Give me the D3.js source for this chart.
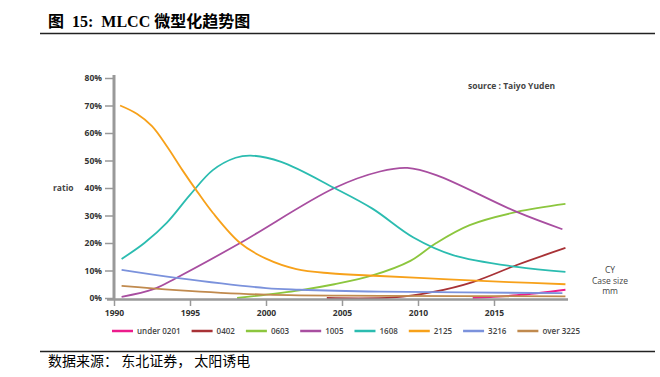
<!DOCTYPE html>
<html lang="zh">
<head>
<meta charset="utf-8">
<title>MLCC 微型化趋势图</title>
<script src="https://d3js.org/d3.v7.min.js"></script>
<style>
  body { margin: 0; background: #fff; }
  svg { display: block; }
  .title { font-family: "Liberation Serif", "Noto Sans CJK SC", serif; font-size: 16px; font-weight: bold; white-space: pre; }
  .foot { font-family: "Noto Sans CJK SC", sans-serif; font-size: 14px; white-space: pre; }
  .axis text { font-family: "Open Sans", sans-serif; font-size: 8.5px; font-weight: bold; fill: #333; }
  .note { font-family: "Open Sans", sans-serif; fill: #444; }
</style>
</head>
<body>
<svg width="660" height="377"></svg>
<script>
// values: [year, share %]
const under0201 = [[2013.6, 0], [2016.5, 1], [2019.7, 3]];
const s0402 = [[2004, 0], [2008.4, 0.2], [2011, 2.2], [2013.6, 5.8], [2016.5, 12], [2019.7, 18.2]];
const s0603 = [[1998.1, 0], [2002.2, 2.8], [2004.5, 5], [2007, 8.2], [2009.5, 13.5], [2011.2, 20], [2013.4, 26.5], [2016.5, 31.3], [2019.7, 34.2]];
const s1005 = [[1990.5, 0.4], [1992.6, 3.2], [1994.1, 7.3], [1998.3, 20], [2004.5, 40], [2007.5, 46], [2009.3, 47.3], [2011.2, 44.7], [2016.5, 31.3], [2019.5, 25]];
const s1608 = [[1990.5, 14.2], [1992, 20], [1993.5, 27.5], [1995, 37.5], [1996.5, 46.5], [1998, 51], [1999, 51.8], [2001, 49.5], [2004.5, 40], [2007, 32.5], [2009.7, 22], [2012.3, 15.6], [2016.5, 11.3], [2019.7, 9.5]];
const s2125 = [[1990.4, 70], [1991.5, 67], [1992.5, 62.5], [1993.5, 55], [1994.5, 46.5], [1995.5, 38.5], [1996.5, 31], [1998.3, 20], [2000, 14.3], [2002, 10.5], [2004.2, 9], [2007.5, 8], [2012, 6.8], [2016, 5.8], [2019.7, 5]];
const s3216 = [[1990.5, 10.2], [1994.1, 7.3], [2000, 3.6], [2002.2, 3], [2007.5, 2.3], [2019.5, 1.8]];
const over3225 = [[1990.5, 4.4], [1994.1, 2.9], [2000, 1.2], [2007.5, 0.8], [2019.7, 0.6]];

const seriesNames = ["under 0201", "0402", "0603", "1005", "1608", "2125", "3216", "over 3225"];
const seriesData = [under0201, s0402, s0603, s1005, s1608, s2125, s3216, over3225];
const colors = ["#ec1c8c", "#a83236", "#8cc63e", "#a84ea0", "#2bbcb0", "#f7a11a", "#7b92dc", "#c08a4e"];
const xTicks = [1990, 1995, 2000, 2005, 2010, 2015];
const yTicks = [0, 10, 20, 30, 40, 50, 60, 70, 80];

const svg = d3.select("svg");

// title and footer
svg.append("text").attr("class", "title").attr("x", 48).attr("y", 27)
   .text("图  15:  MLCC 微型化趋势图");
svg.append("line").attr("x1", 40).attr("x2", 655).attr("y1", 33.5).attr("y2", 33.5)
   .attr("stroke", "#222").attr("stroke-width", 1.3);
svg.append("line").attr("x1", 40).attr("x2", 655).attr("y1", 351.5).attr("y2", 351.5)
   .attr("stroke", "#222").attr("stroke-width", 1.3);
svg.append("text").attr("class", "foot").attr("x", 48).attr("y", 366)
   .text("数据来源： 东北证券， 太阳诱电");

const x = d3.scaleLinear().domain([1990, 2020]).range([114, 570]);
const y = d3.scaleLinear().domain([0, 80]).range([298, 78]);

// axes
const gy = svg.append("g").attr("class", "axis").attr("transform", "translate(114,0)")
  .call(d3.axisLeft(y).tickValues(yTicks).tickFormat(d => d + "%").tickSize(9).tickSizeOuter(0).tickPadding(3));
gy.select(".domain").remove();
gy.selectAll(".tick line").attr("stroke", "#999").attr("stroke-width", 1.5);

const gx = svg.append("g").attr("class", "axis").attr("transform", "translate(0,299)")
  .call(d3.axisBottom(x).tickValues(xTicks).tickFormat(d3.format("d")).tickSize(7).tickSizeOuter(0).tickPadding(4));
gx.select(".domain").remove();
gx.selectAll(".tick line").attr("stroke", "#999").attr("stroke-width", 1.5);

svg.append("line").attr("x1", 114).attr("x2", 114).attr("y1", 75).attr("y2", 300)
   .attr("stroke", "#999").attr("stroke-width", 3);

// lines
const line = d3.line().x(d => x(d[0])).y(d => y(Math.max(0, d[1]))).curve(d3.curveCatmullRom.alpha(0.5));
svg.append("g").selectAll("path")
  .data(seriesData)
  .join("path")
  .attr("d", line)
  .attr("fill", "none")
  .attr("stroke", (d, i) => colors[i])
  .attr("stroke-width", 1.8);

svg.append("line").attr("x1", 107).attr("x2", 568).attr("y1", 299.5).attr("y2", 299.5)
   .attr("stroke", "#999").attr("stroke-width", 2.5);

// annotations
svg.append("text").attr("class", "note").attr("x", 53).attr("y", 191)
   .attr("font-size", 8.5).attr("font-weight", "bold").attr("fill", "#333").text("ratio");
svg.append("text").attr("class", "note").attr("x", 468).attr("y", 89)
   .attr("font-size", 8.5).attr("font-weight", "bold").attr("fill", "#333").text("source : Taiyo Yuden");
["CY", "Case size", "mm"].forEach((t, i) =>
  svg.append("text").attr("class", "note").attr("text-anchor", "middle")
    .attr("font-size", 8.5).attr("fill", "#555")
    .attr("x", 610).attr("y", 273 + i * 10.5).text(t));

// legend
const legend = svg.append("g").attr("transform", "translate(112,331)");
let lx = 0;
seriesNames.forEach((name, i) => {
  legend.append("line").attr("x1", lx).attr("x2", lx + 21).attr("y1", 0).attr("y2", 0)
    .attr("stroke", colors[i]).attr("stroke-width", 2.5);
  const t = legend.append("text").attr("class", "note").attr("x", lx + 25).attr("y", 3)
    .attr("font-size", 8).attr("font-weight", 600).attr("fill", "#444").text(name);
  lx += 25 + t.node().getComputedTextLength() + 11;
});
</script>
</body>
</html>
